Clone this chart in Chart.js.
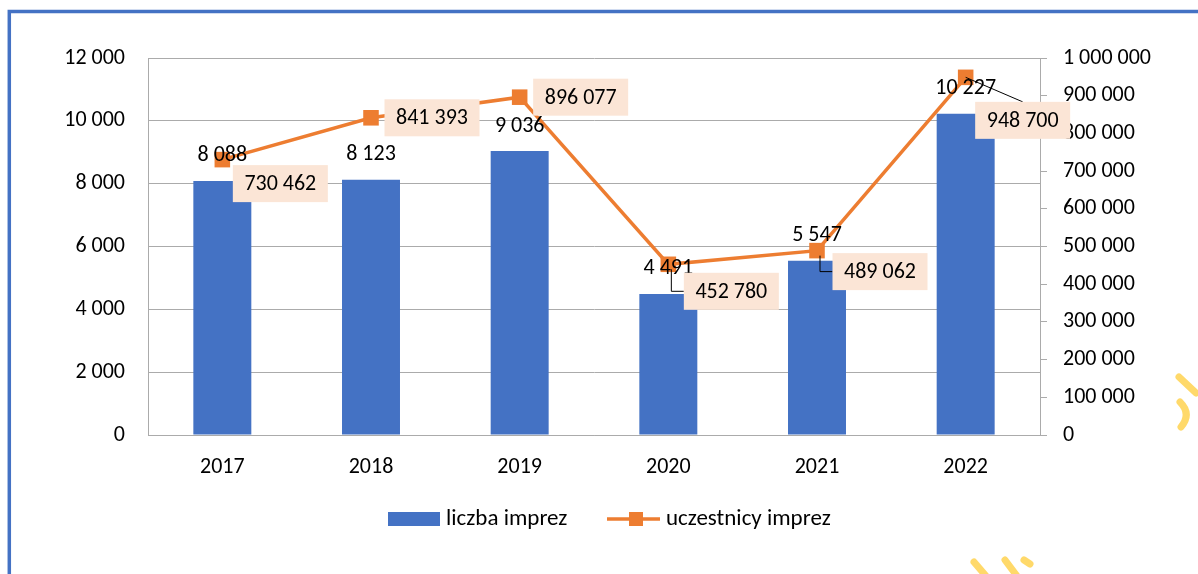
<!DOCTYPE html>
<html>
<head>
<meta charset="utf-8">
<script src="https://cdn.jsdelivr.net/npm/chart.js@4"></script>
<style>
    body { margin: 0; background: #fff; }
    #chart-container { position: relative; width: 1198px; height: 574px; }
</style>
</head>
<body>
<div id="chart-container"><canvas id="eventsChart" width="1198" height="574"></canvas></div>
<script>
// data
const years = ["2017", "2018", "2019", "2020", "2021", "2022"];
const eventCounts = [8088, 8123, 9036, 4491, 5547, 10227];      // liczba imprez
const participants = [730462, 841393, 896077, 452780, 489062, 948700]; // uczestnicy imprez
const leftTicks = [0, 2000, 4000, 6000, 8000, 10000, 12000];
const rightTicks = [0, 100000, 200000, 300000, 400000, 500000, 600000, 700000, 800000, 900000, 1000000];

// where each participants label box sits relative to its point, and its leader line
const boxOffsets = [[58, 24], [61, 0], [61, 0], [63, 27], [63, 21], [57, 43]];
const leaders = [null, null, null, "elbow", "elbow", "top"];

const BLUE = "#4472C4";
const ORANGE = "#ED7D31";
const GRID = "#ABABAB";
const FONT = "Carlito, Lato, sans-serif";
const FONT_SIZE = 22;

function fmt(v) {
    return String(v).replace(/\B(?=(\d{3})+(?!\d))/g, " ");
}

// frame + yellow scribbles behind everything
const framePlugin = {
    id: "frame",
    beforeDraw(chart) {
        let ctx = chart.ctx;
        ctx.save();
        ctx.fillStyle = "#fff";
        ctx.fillRect(0, 0, chart.width, chart.height);
        ctx.strokeStyle = BLUE;
        ctx.lineWidth = 3.5;
        ctx.beginPath();
        ctx.moveTo(9.3, 574);
        ctx.lineTo(9.3, 11.5);
        ctx.lineTo(1198, 11.5);
        ctx.stroke();

        ctx.strokeStyle = "rgba(255, 210, 80, 0.85)";
        ctx.lineWidth = 7;
        ctx.lineCap = "round";
        ctx.beginPath();
        ctx.moveTo(1179, 377); ctx.lineTo(1196, 393);
        ctx.moveTo(1180, 402); ctx.quadraticCurveTo(1192, 414, 1181, 427);
        ctx.moveTo(974, 562); ctx.lineTo(986, 576);
        ctx.moveTo(1005, 560); ctx.lineTo(1017, 576);
        ctx.moveTo(1024, 560); ctx.lineTo(1030, 564);
        ctx.stroke();
        ctx.restore();
    }
};

// data labels + custom legend
const labelPlugin = {
    id: "labels",
    afterDatasetsDraw(chart) {
        let ctx = chart.ctx;
        ctx.save();
        ctx.font = FONT_SIZE + "px " + FONT;
        ctx.textAlign = "center";
        ctx.textBaseline = "middle";

        // bar labels
        let bars = chart.getDatasetMeta(0).data;
        bars.forEach((bar, i) => {
            ctx.fillStyle = "#000";
            ctx.fillText(fmt(eventCounts[i]), bar.x, bar.y - 25);
        });

        // line labels in boxes
        let pts = chart.getDatasetMeta(1).data;
        pts.forEach((p, i) => {
            let cx = p.x + boxOffsets[i][0];
            let cy = p.y + boxOffsets[i][1];
            let w = 95, h = 37;
            ctx.strokeStyle = "#000";
            ctx.lineWidth = 1;
            if (leaders[i] === "elbow") {
                ctx.beginPath();
                ctx.moveTo(p.x + 3, p.y + 5);
                ctx.lineTo(p.x + 3, cy);
                ctx.lineTo(cx - w / 2, cy);
                ctx.stroke();
            } else if (leaders[i] === "top") {
                ctx.beginPath();
                ctx.moveTo(p.x, p.y);
                ctx.lineTo(cx, cy - h / 2);
                ctx.stroke();
            }
            ctx.fillStyle = "#FBE5D6";
            ctx.fillRect(cx - w / 2, cy - h / 2, w, h);
            ctx.fillStyle = "#000";
            ctx.fillText(fmt(participants[i]), cx, cy + 1);
        });

        // legend
        let ly = 519;
        ctx.font = "23px " + FONT;
        ctx.fillStyle = BLUE;
        ctx.fillRect(388, ly - 7, 52, 14);
        ctx.strokeStyle = ORANGE;
        ctx.lineWidth = 3.5;
        ctx.beginPath();
        ctx.moveTo(607, ly);
        ctx.lineTo(660, ly);
        ctx.stroke();
        ctx.fillStyle = ORANGE;
        ctx.fillRect(629, ly - 7, 14, 14);
        ctx.fillStyle = "#000";
        ctx.textAlign = "left";
        ctx.fillText("liczba imprez", 446, ly);
        ctx.fillText("uczestnicy imprez", 666, ly);
        ctx.restore();
    }
};

const ctx = document.getElementById("eventsChart").getContext("2d");
new Chart(ctx, {
    type: "bar",
    data: {
        labels: years,
        datasets: [
            {
                type: "bar",
                label: "liczba imprez",
                data: eventCounts,
                backgroundColor: BLUE,
                yAxisID: "y",
                categoryPercentage: 1,
                barPercentage: 0.39,
                order: 2
            },
            {
                type: "line",
                label: "uczestnicy imprez",
                data: participants,
                borderColor: ORANGE,
                backgroundColor: ORANGE,
                borderWidth: 3.5,
                pointStyle: "rect",
                pointRadius: 11,
                pointHoverRadius: 11,
                pointBorderWidth: 0,
                pointBackgroundColor: ORANGE,
                tension: 0,
                yAxisID: "y1",
                order: 1
            }
        ]
    },
    options: {
        responsive: false,
        animation: false,
        layout: { padding: { top: 58, left: 0, right: 0, bottom: 0 } },
        plugins: {
            legend: { display: false },
            tooltip: { enabled: false }
        },
        scales: {
            x: {
                grid: { display: false, drawTicks: false },
                border: { display: true, color: GRID, width: 1 },
                ticks: { color: "#000", font: { family: FONT, size: FONT_SIZE }, padding: 19 },
                afterFit: (s) => { s.height = 139; }
            },
            y: {
                position: "left",
                min: 0,
                max: 12000,
                afterBuildTicks: (s) => { s.ticks = leftTicks.map(v => ({ value: v })); },
                grid: { color: GRID, lineWidth: 1, drawTicks: false },
                border: { display: true, color: GRID, width: 1 },
                ticks: { color: "#000", font: { family: FONT, size: FONT_SIZE }, padding: 23, callback: (v) => fmt(v) },
                afterFit: (s) => { s.width = 148; }
            },
            y1: {
                position: "right",
                min: 0,
                max: 1000000,
                afterBuildTicks: (s) => { s.ticks = rightTicks.map(v => ({ value: v })); },
                grid: { drawOnChartArea: false, color: GRID, tickLength: 7 },
                border: { display: true, color: GRID, width: 1 },
                ticks: { color: "#000", font: { family: FONT, size: FONT_SIZE }, padding: 16, callback: (v) => fmt(v) },
                afterFit: (s) => { s.width = 158; }
            }
        }
    },
    plugins: [framePlugin, labelPlugin]
});
</script>
</body>
</html>
